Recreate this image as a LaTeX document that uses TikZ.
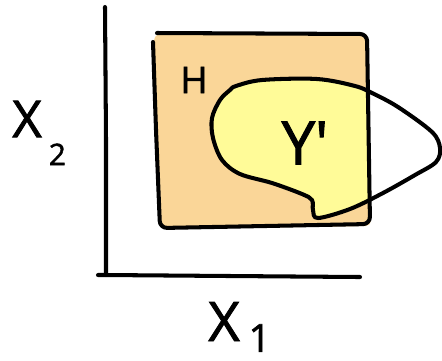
\documentclass[tikz,border=0pt]{standalone}
\usepackage{fontspec}
\setsansfont{Open Sans}
\newfontfamily\handfont{Open Sans}[FakeBold=1.6]
\usetikzlibrary{positioning}
\definecolor{hpeach}{HTML}{FAD698}
\definecolor{ylemon}{HTML}{FFFB98}
\newcommand{\yblob}{plot[smooth cycle, tension=0.55] coordinates {(236,86) (262,80) (317,79) (355,86) (372,93) (398,107) (432,132) (440,148) (436,162) (415,175) (383,193) (350,209) (318,218) (313,210) (312,200) (302,194) (272,183) (240,174) (222,160) (213,138) (212,118) (220,100) (230,90)}}
\newcommand{\hsquare}{[rounded corners=3pt] (153,40) -- (158,33) -- (368,33) -- (371,226) -- (160,229) -- cycle}

\begin{document}
\begin{tikzpicture}[x=0.02cm, y=-0.02cm,
    stroke/.style={line width=2.3pt, line cap=round, line join=round, black},
    lbl/.style={font=\handfont, inner sep=0pt}]
  \useasboundingbox (0,0) rectangle (442,360);
  \fill[hpeach] \hsquare;
  \begin{scope}
    \clip \hsquare;
    \fill[ylemon] \yblob;
  \end{scope}
  \draw[stroke] \yblob;
  \draw[stroke, rounded corners=4pt] (157,33) -- (367,34) -- (370,224) -- (160,228) -- (156,130) -- (153,42);
  \coordinate (origin) at (106,275);
  \draw[stroke] (105,7) -- (106,140) -- (origin);
  \draw[stroke] (98,275) -- (origin) -- (230,276) -- (360,277);
  \node[lbl, font=\handfont\fontsize{21}{21}\selectfont] (hlab) at (194,80) {H};
  \node[lbl, font=\handfont\fontsize{34}{34}\selectfont] (ylab) at (305,143) {Y'};
  \node[lbl, font=\handfont\fontsize{29}{29}\selectfont, anchor=west] (xtwo) at (12,133)
    {X\kern4pt\raisebox{-0.55em}{\fontsize{17}{17}\selectfont 2}};
  \node[lbl, font=\handfont\fontsize{31}{31}\selectfont, anchor=west] (xone) at (208,327)
    {X\kern5pt\raisebox{-0.2em}{\fontsize{22}{22}\selectfont 1}};
\end{tikzpicture}
\end{document}
